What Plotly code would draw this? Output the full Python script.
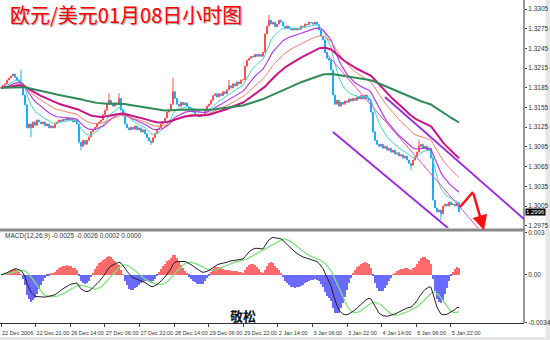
import plotly.graph_objects as go

# ---------------- data (hourly EUR/USD closes) -------------
closes = [
 1.3185,1.3189,1.3191,1.3197,1.3200,1.3203,1.3206,1.3201,1.3197,1.3194,
 1.3191,1.3174,1.3159,1.3124,1.3130,1.3124,1.3133,1.3128,1.3136,1.3133,
 1.3130,1.3133,1.3127,1.3130,1.3124,1.3127,1.3124,1.3130,1.3133,1.3136,
 1.3134,1.3137,1.3136,1.3139,1.3136,1.3137,1.3133,1.3136,1.3130,1.3102,
 1.3096,1.3105,1.3099,1.3105,1.3110,1.3118,1.3121,1.3125,1.3130,1.3133,
 1.3136,1.3144,1.3151,1.3160,1.3166,1.3160,1.3157,1.3162,1.3160,1.3169,
 1.3151,1.3142,1.3130,1.3124,1.3121,1.3125,1.3122,1.3127,1.3121,1.3124,
 1.3118,1.3121,1.3115,1.3109,1.3104,1.3102,1.3109,1.3115,1.3121,1.3124,
 1.3130,1.3133,1.3139,1.3148,1.3151,1.3160,1.3179,1.3169,1.3160,1.3157,
 1.3163,1.3159,1.3162,1.3156,1.3154,1.3151,1.3148,1.3145,1.3142,1.3141,
 1.3144,1.3142,1.3151,1.3157,1.3160,1.3166,1.3173,1.3176,1.3171,1.3176,
 1.3173,1.3179,1.3176,1.3182,1.3188,1.3185,1.3191,1.3188,1.3194,1.3191,
 1.3197,1.3197,1.3218,1.3227,1.3230,1.3233,1.3232,1.3236,1.3233,1.3236,
 1.3233,1.3239,1.3267,1.3279,1.3288,1.3282,1.3285,1.3278,1.3282,1.3288,
 1.3285,1.3279,1.3276,1.3279,1.3276,1.3273,1.3276,1.3273,1.3276,1.3274,
 1.3279,1.3278,1.3282,1.3281,1.3285,1.3284,1.3282,1.3285,1.3281,1.3273,
 1.3264,1.3258,1.3239,1.3230,1.3227,1.3212,1.3174,1.3160,1.3166,1.3157,
 1.3163,1.3160,1.3165,1.3163,1.3168,1.3165,1.3169,1.3166,1.3171,1.3168,
 1.3173,1.3168,1.3174,1.3169,1.3166,1.3148,1.3118,1.3105,1.3099,1.3096,
 1.3099,1.3093,1.3096,1.3090,1.3093,1.3087,1.3090,1.3084,1.3086,1.3081,
 1.3083,1.3078,1.3081,1.3075,1.3070,1.3067,1.3075,1.3080,1.3087,1.3096,
 1.3099,1.3093,1.3096,1.3090,1.3093,1.3078,1.3014,1.3002,1.2996,1.2999,
 1.2993,1.3005,1.3008,1.3005,1.3011,1.3007,1.3008,1.3005,1.3010,1.2996,
]
# notable wicks
hi_bar = [10, 54, 59, 86, 114, 134, 209]
hi_val = [1.3212, 1.3177, 1.3177, 1.3200, 1.3197, 1.3296, 1.3105]
lo_bar = [15, 40, 75, 205, 220]
lo_val = [1.3110, 1.3090, 1.3098, 1.3060, 1.2984]

ma_periods = [10, 20, 34, 55, 144]
ma_colors = ["#48d1cc", "#b040e0", "#f08070", "#c71585", "#2e8b57"]
ma_widths = [1, 1.2, 1, 2, 2]

time_labels = ["22 Dec 2006", "22 Dec 21:00", "26 Dec 14:00", "27 Dec 06:00",
               "27 Dec 22:00", "28 Dec 14:00", "29 Dec 06:00", "29 Dec 22:00",
               "2 Jan 14:00", "3 Jan 06:00", "3 Jan 22:00", "4 Jan 14:00",
               "5 Jan 06:00", "5 Jan 22:00"]
price_ticks = [1.3305, 1.3275, 1.3245, 1.3215, 1.3185, 1.3155, 1.3125,
               1.3095, 1.3065, 1.3035, 1.3005, 1.2975]
macd_ticks = [0.003, 0.0, -0.0034]
macd_tick_text = ["0.003", "0.00", "-0.0034"]
last_price = "1.2996"

# hand-drawn lines (bar, price): channel, thin trend line, red arrow
chan_low = [(166, 1.31177), (223.5, 1.29715)]
chan_up = [(192, 1.31710), (261.5, 1.29852)]
trend_thin = [(162, 1.32395), (238.5, 1.29715)]
arrow_pts = [(229.5, 1.30035), (236, 1.30263), (241.5, 1.29680)]

# ---------------- derived series -------------
n = len(closes)
xs = list(range(n))
opens = [closes[0]] + closes[:-1]
highs = [max(o, c) for o, c in zip(opens, closes)]
lows = [min(o, c) for o, c in zip(opens, closes)]
for i, v in zip(hi_bar, hi_val):
    highs[i] = max(highs[i], v)
for i, v in zip(lo_bar, lo_val):
    lows[i] = min(lows[i], v)


def ema(vals, p):
    a = 2.0 / (p + 1)
    e = vals[0]
    out = []
    for v in vals:
        e = e + a * (v - e)
        out.append(e)
    return out


def sma(vals, p):
    out = []
    for i in range(len(vals)):
        w = vals[max(0, i - p + 1): i + 1]
        out.append(sum(w) / len(w))
    return out


e12 = ema(closes, 12)
e26 = ema(closes, 26)
macd = [a - b for a, b in zip(e12, e26)]
signal = sma(macd, 9)
hist = [1.75 * (m - s) for m, s in zip(macd, signal)]

# ---------------- figure -------------
PW, PH = 524, 323
TICKFONT = "Liberation Sans Narrow, Arial Narrow, Liberation Sans, sans-serif"
fig = go.Figure()

for p, c, w in zip(ma_periods, ma_colors, ma_widths):
    fig.add_trace(go.Scatter(x=xs, y=ema(closes, p), mode="lines",
                             line=dict(color=c, width=w), xaxis="x", yaxis="y",
                             hoverinfo="skip"))

fig.add_trace(go.Candlestick(
    x=xs, open=opens, high=highs, low=lows, close=closes,
    increasing=dict(line=dict(color="#ff5050", width=1), fillcolor="#ff5050"),
    decreasing=dict(line=dict(color="#1eaaff", width=1), fillcolor="#1eaaff"),
    whiskerwidth=0, xaxis="x", yaxis="y"))

fig.add_trace(go.Bar(x=xs, y=hist, width=0.45,
                     marker=dict(color=["#ff6a6a" if h >= 0 else "#6a6aff" for h in hist],
                                 line=dict(width=0)),
                     xaxis="x2", yaxis="y2"))
fig.add_trace(go.Scatter(x=xs, y=signal, mode="lines",
                         line=dict(color="#80e080", width=1.3), xaxis="x2", yaxis="y2"))
fig.add_trace(go.Scatter(x=xs, y=macd, mode="lines",
                         line=dict(color="#222222", width=1), xaxis="x2", yaxis="y2"))

tickpos = [17.3 * k for k in range(len(time_labels))]
main_lo = 1.3305 - (228 - 9) * 0.003 / 19.7
main_hi = 1.3305 + 9 * 0.003 / 19.7

fig.update_layout(
    width=550, height=340, margin=dict(l=0, r=26, t=0, b=17, autoexpand=False),
    paper_bgcolor="white", plot_bgcolor="white", showlegend=False,
    font=dict(family=TICKFONT, size=7, color="#222"),
    bargap=0,
    xaxis=dict(domain=[0, 1], anchor="y", range=[-0.5, 261.5], showticklabels=False,
               showgrid=False, zeroline=False, rangeslider=dict(visible=False),
               showline=False, automargin=False),
    xaxis2=dict(domain=[0, 1], anchor="y2", range=[-0.5, 261.5], matches="x",
                tickvals=tickpos, ticktext=time_labels, ticklabelposition="outside right",
                tickangle=0, automargin=False, ticklabelstandoff=4,
                ticks="outside", ticklen=3, tickcolor="#444", showgrid=False,
                zeroline=False, showline=True, linecolor="#333", linewidth=1,
                tickfont=dict(size=5.5, family=TICKFONT, color="#333")),
    yaxis=dict(domain=[1 - 228 / PH, 1], anchor="x", side="right", automargin=False,
               range=[main_lo, main_hi], tickvals=price_ticks, tickformat=".4f",
               ticks="outside", ticklen=2, tickcolor="#444", showgrid=False,
               zeroline=False, tickfont=dict(size=6.5, family=TICKFONT, color="#333")),
    yaxis2=dict(domain=[0, (PH - 232) / PH], anchor="x2", side="right", automargin=False,
                range=[-0.00345, 0.00307], tickvals=macd_ticks, ticktext=macd_tick_text,
                ticks="outside", ticklen=2, tickcolor="#444", showgrid=False,
                zeroline=False, tickfont=dict(size=6.5, family=TICKFONT, color="#333")),
)

shapes = [
    dict(type="rect", xref="paper", yref="paper", x0=545.5 / PW, x1=551 / PW,
         y0=-18 / PH, y1=1.01, fillcolor="#e6e6e6", line=dict(width=0), layer="below"),
    dict(type="rect", xref="paper", yref="paper", x0=-0.01, x1=551 / PW,
         y0=-18 / PH, y1=-14 / PH, fillcolor="#e6e6e6", line=dict(width=0), layer="below"),
    dict(type="line", xref="paper", yref="paper", x0=1, x1=1, y0=0, y1=1,
         line=dict(color="#333", width=1)),
    dict(type="rect", xref="paper", yref="paper", x0=0, x1=1,
         y0=(PH - 231.5) / PH, y1=(PH - 228.5) / PH, fillcolor="#8a8a8a",
         line=dict(width=0)),
    dict(type="line", xref="x", yref="y", x0=trend_thin[0][0], y0=trend_thin[0][1],
         x1=trend_thin[1][0], y1=trend_thin[1][1], line=dict(color="#d54fc4", width=1)),
    dict(type="line", xref="x", yref="y", x0=chan_low[0][0], y0=chan_low[0][1],
         x1=chan_low[1][0], y1=chan_low[1][1], line=dict(color="#9b30d9", width=2)),
    dict(type="line", xref="x", yref="y", x0=chan_up[0][0], y0=chan_up[0][1],
         x1=chan_up[1][0], y1=chan_up[1][1], line=dict(color="#9b30d9", width=2)),
    dict(type="line", xref="x", yref="y", x0=arrow_pts[0][0], y0=arrow_pts[0][1],
         x1=arrow_pts[1][0], y1=arrow_pts[1][1], line=dict(color="#ff1010", width=2.5)),
]
fig.update_layout(shapes=shapes)

ann = [
    dict(x=arrow_pts[2][0], y=arrow_pts[2][1], ax=arrow_pts[1][0], ay=arrow_pts[1][1],
         xref="x", yref="y", axref="x", ayref="y", text="", showarrow=True,
         arrowhead=2, arrowsize=1.2, arrowwidth=2.5, arrowcolor="#ff1010"),
    dict(x=1.002, y=float(last_price) - 0.00004, xref="paper", yref="y", xanchor="left",
         yanchor="middle", text=last_price, showarrow=False, bgcolor="#000",
         font=dict(color="white", size=6, family=TICKFONT), borderpad=0),
    dict(x=8 / PW, y=1 - 15 / PH, xref="paper", yref="paper", xanchor="left",
         yanchor="middle", text="欧元/美元01月08日小时图", showarrow=False,
         font=dict(family="Noto Sans CJK SC", size=20, color="#ff0000",
                   shadow="1px 1px 1px #aaaaaa")),
    dict(x=3 / PW, y=(PH - 236) / PH, xref="paper", yref="paper", xanchor="left",
         yanchor="middle", text="MACD(12,26,9) -0.0025 -0.0026 0.0002 0.0000",
         showarrow=False, font=dict(size=6.5, color="#333", family=TICKFONT)),
    dict(x=243 / PW, y=(PH - 315) / PH, xref="paper", yref="paper", xanchor="center",
         yanchor="middle", text="敬松", showarrow=False,
         font=dict(family="Noto Sans CJK SC", size=13, color="#111", weight="bold")),
]
fig.update_layout(annotations=ann)

fig.write_html("out.html")
